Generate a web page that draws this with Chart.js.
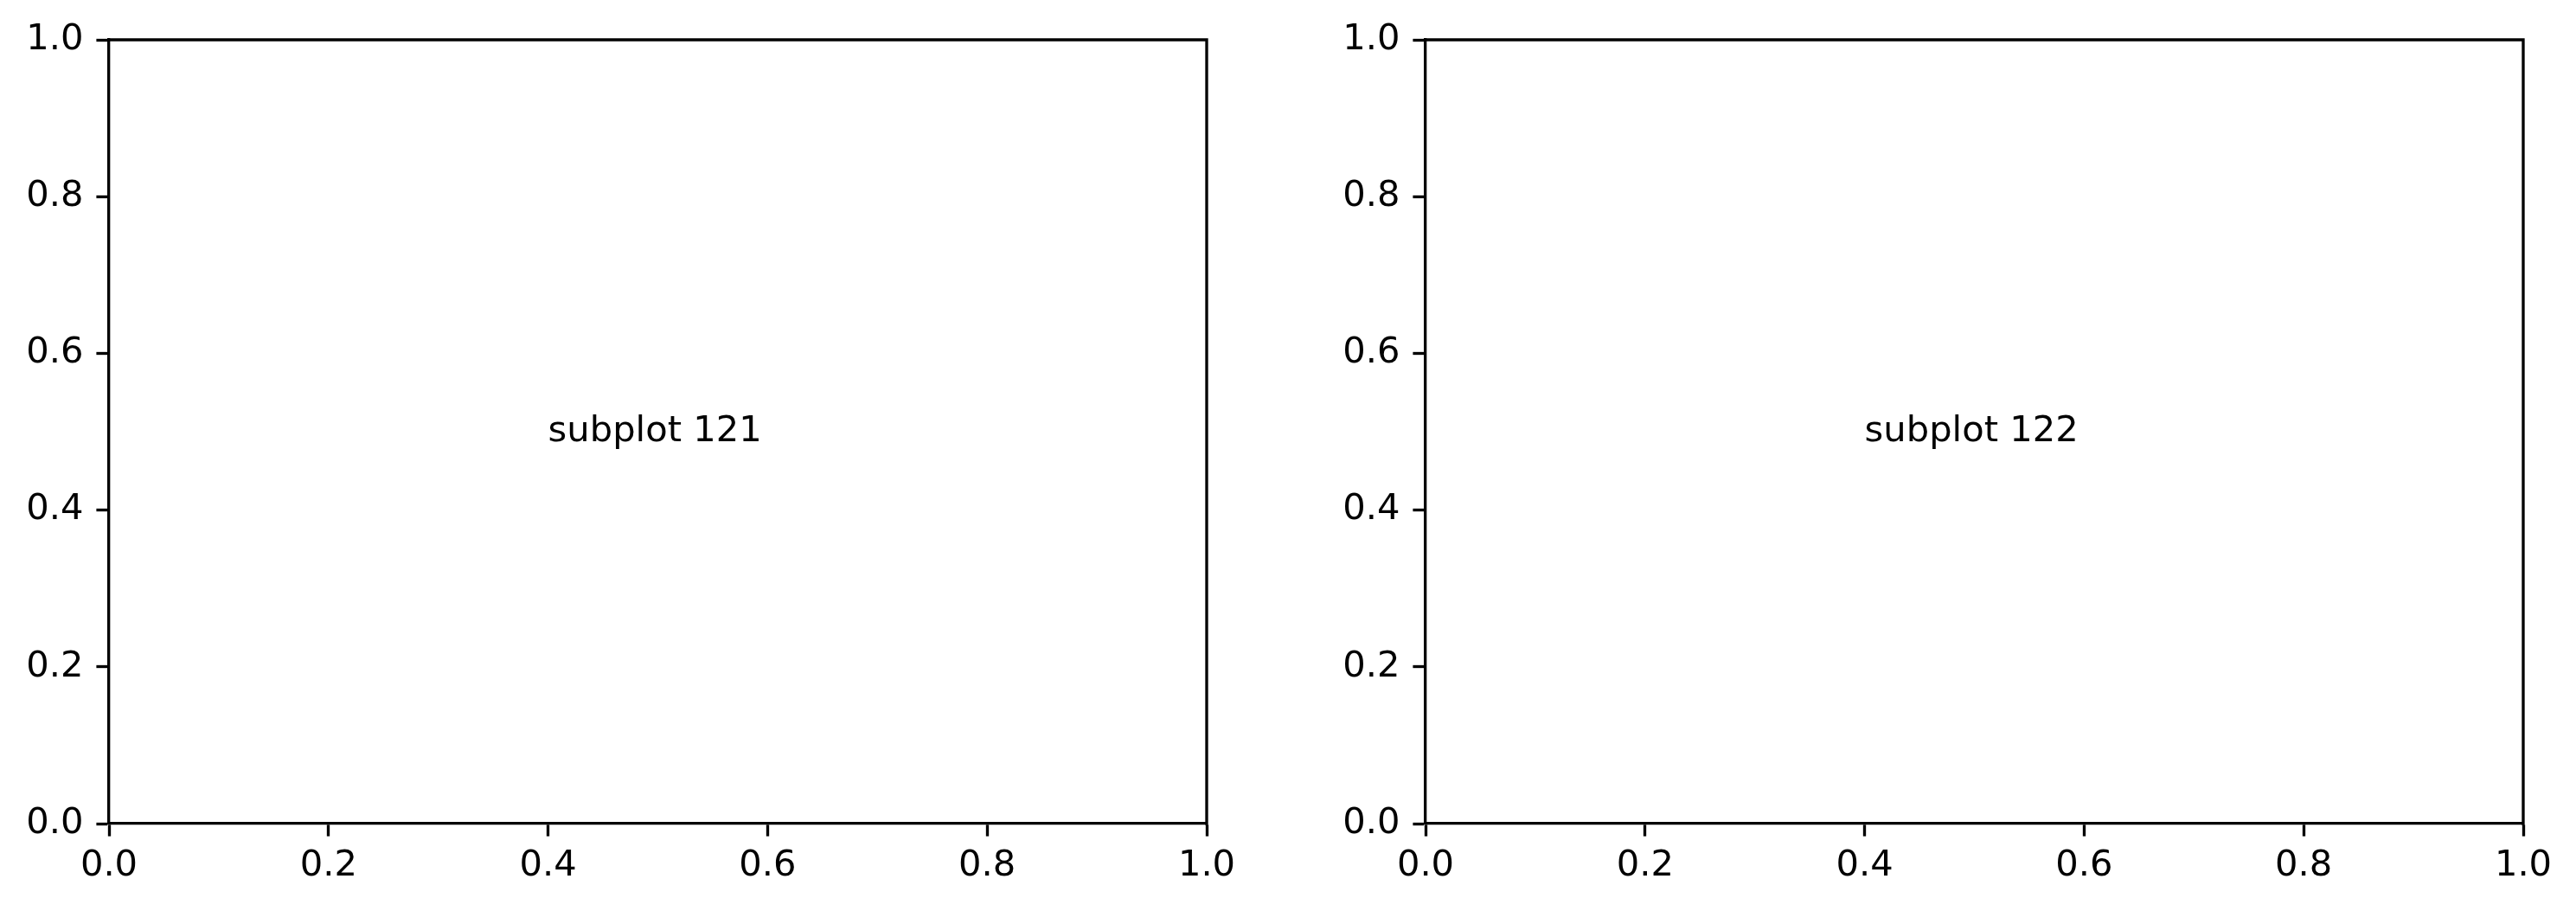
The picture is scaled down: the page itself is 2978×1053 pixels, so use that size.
<!DOCTYPE html>
<html>
<head>
<meta charset="utf-8">
<script src="https://cdn.jsdelivr.net/npm/chart.js@4/dist/chart.umd.min.js"></script>
<style>
  html, body { margin: 0; padding: 0; background: #ffffff; }
  #wrap { position: relative; width: 2978px; height: 1053px; overflow: hidden; background: #fff; }
  canvas { position: absolute; top: 0; }
</style>
</head>
<body>
<div id="wrap">
  <canvas id="c1" width="1489" height="1053" style="left:0px"></canvas>
  <canvas id="c2" width="1489" height="1053" style="left:1489px"></canvas>
</div>
<script>
// ---- data ----
const tickValues = [0.0, 0.2, 0.4, 0.6, 0.8, 1.0];
const tickLabels = ['0.0', '0.2', '0.4', '0.6', '0.8', '1.0'];
const panelLabels = ['subplot 121', 'subplot 122'];
const labelX = [0.4, 0.4];
const labelY = [0.5, 0.5];
const seriesValues = [[], []];  // both subplots are empty

// ---- styling ----
const FONT = { family: "'DejaVu Sans', 'Liberation Sans', sans-serif", size: 41.67 };
const LW = 3.33;
const TICKLEN = 14.6;

const framePlugin = {
  id: 'frame',
  afterDraw(chart, args, opts) {
    const ctx = chart.ctx;
    const a = chart.chartArea;
    ctx.save();
    ctx.strokeStyle = '#000';
    ctx.lineWidth = LW;
    ctx.lineCap = 'square';
    ctx.beginPath();
    ctx.moveTo(a.left, a.top);
    ctx.lineTo(a.right, a.top);
    ctx.lineTo(a.right, a.bottom);
    ctx.stroke();
    // panel text
    const xs = chart.scales.x, ys = chart.scales.y;
    ctx.fillStyle = '#000';
    ctx.font = FONT.size + 'px ' + FONT.family;
    ctx.textAlign = 'left';
    ctx.textBaseline = 'middle';
    ctx.fillText(opts.text, xs.getPixelForValue(opts.tx), ys.getPixelForValue(opts.ty));
    ctx.restore();
  }
};

function axis(pos, fixedSize) {
  return {
    type: 'linear',
    position: pos,
    min: 0, max: 1,
    afterBuildTicks(scale) { scale.ticks = tickValues.map(v => ({ value: v })); },
    afterFit(scale) {
      if (pos === 'left') scale.width = fixedSize; else scale.height = fixedSize;
    },
    grid: {
      display: true,
      drawOnChartArea: false,
      drawTicks: true,
      tickLength: TICKLEN,
      tickWidth: LW,
      tickColor: '#000'
    },
    border: { display: true, color: '#000', width: LW },
    ticks: {
      color: '#000',
      font: FONT,
      padding: pos === 'left' ? 15 : 10,
      maxRotation: 0,
      autoSkip: false,
      callback(value, index) { return tickLabels[tickValues.indexOf(value)] ?? value.toFixed(1); }
    }
  };
}

function makeChart(id, i, yAxisWidth, rightPad) {
  return new Chart(document.getElementById(id), {
    type: 'scatter',
    data: { datasets: [{ data: seriesValues[i], pointRadius: 0 }] },
    options: {
      responsive: false,
      animation: false,
      devicePixelRatio: 1,
      layout: { padding: { top: 46, right: rightPad, left: 0, bottom: 0 } },
      plugins: {
        legend: { display: false },
        tooltip: { enabled: false },
        frame: { text: panelLabels[i], tx: labelX[i], ty: labelY[i] }
      },
      scales: {
        x: axis('bottom', 101),
        y: axis('left', yAxisWidth)
      }
    },
    plugins: [framePlugin]
  });
}

makeChart('c1', 0, 126, 94);
makeChart('c2', 1, 159, 61);
</script>
</body>
</html>
